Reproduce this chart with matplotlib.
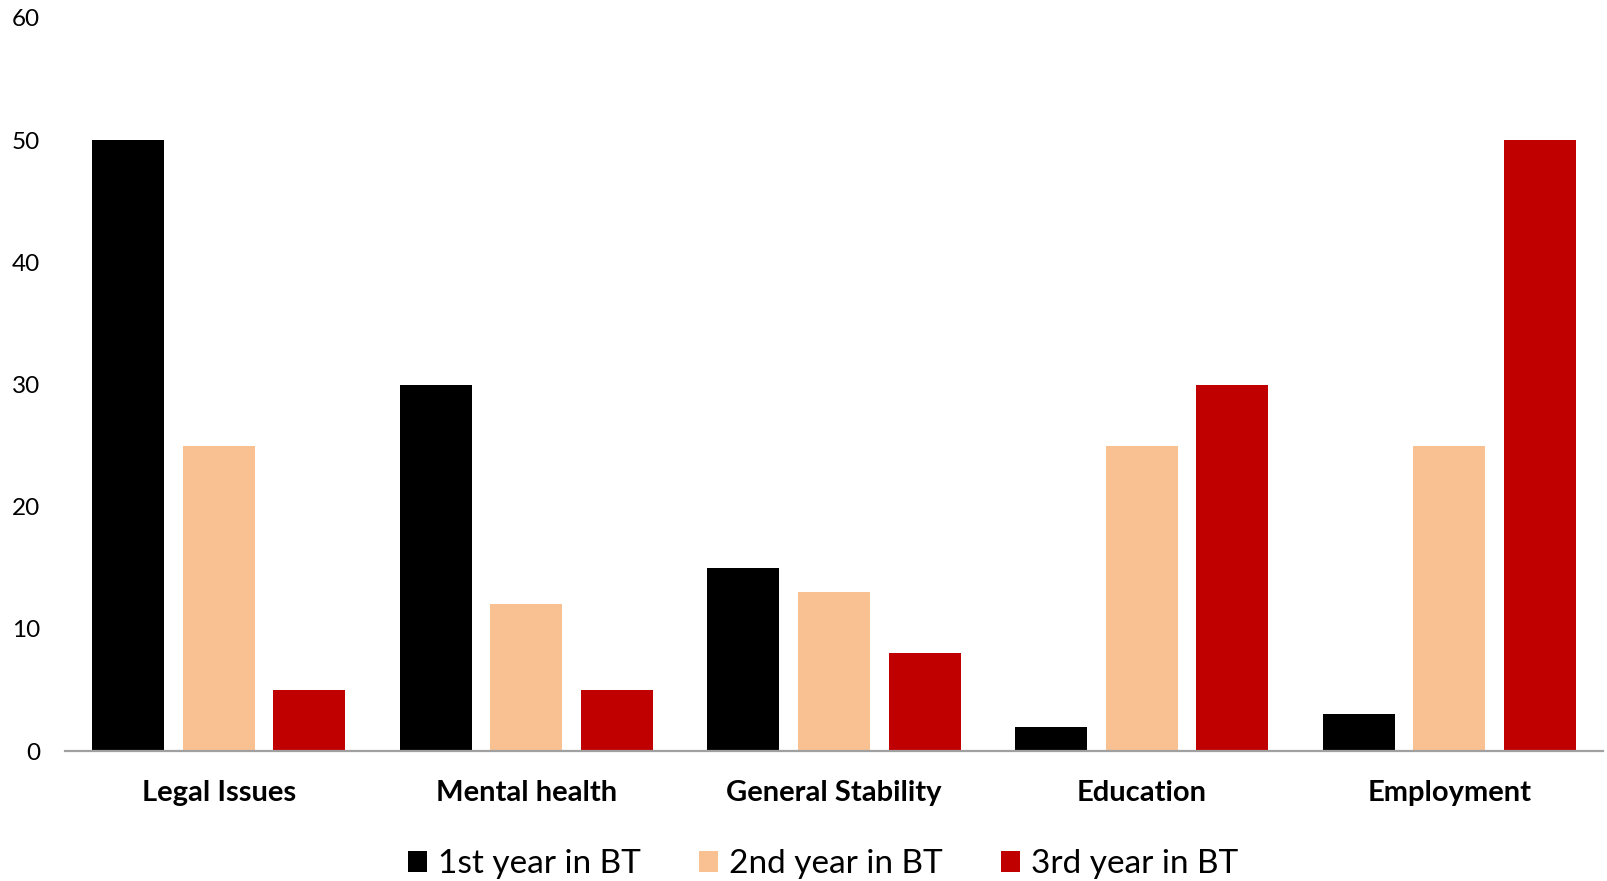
import numpy as np
import matplotlib
matplotlib.use("Agg")
import matplotlib.pyplot as plt
from matplotlib.patches import Patch

categories = ["Legal Issues", "Mental health", "General Stability", "Education", "Employment"]
series_names = ["1st year in BT", "2nd year in BT", "3rd year in BT"]
year1 = [50, 30, 15, 2, 3]
year2 = [25, 12, 13, 25, 25]
year3 = [5, 5, 8, 30, 50]
yticks = [0, 10, 20, 30, 40, 50, 60]

colors = ["#000000", "#F9C192", "#C00000"]

plt.rcParams["font.family"] = ["Lato", "DejaVu Sans"]

fig = plt.figure(figsize=(16.08, 8.81), dpi=100)
ax = fig.add_axes([65 / 1608, 130 / 881, 1538 / 1608, 733 / 881])

x = np.arange(len(categories))
step = 0.2946
width = 0.234
for i, (vals, col) in enumerate(zip([year1, year2, year3], colors)):
    ax.bar(x + (i - 1) * step, vals, width, color=col, zorder=2)

ax.set_xlim(-0.5, len(categories) - 0.5)
ax.set_ylim(0, 60)
ax.set_yticks(yticks)
ax.set_yticklabels([str(v) for v in yticks], fontsize=17.5)
ax.set_xticks(x)
ax.set_xticklabels(categories, fontsize=21, fontweight="bold")
ax.tick_params(axis="y", length=0, pad=18)
ax.tick_params(axis="x", length=0, pad=21)

for s in ["top", "right", "left"]:
    ax.spines[s].set_visible(False)
ax.spines["bottom"].set_color("#A0A0A0")
ax.spines["bottom"].set_linewidth(1.6)
ax.spines["bottom"].set_zorder(3)

handles = [Patch(facecolor=c, edgecolor="none") for c in colors]
fig.legend(handles, series_names, loc="center", bbox_to_anchor=(823 / 1608, 1 - 864 / 881),
           ncol=3, frameon=False, fontsize=24, handlelength=0.58, handleheight=0.6,
           handletextpad=0.32, columnspacing=1.75, borderaxespad=0, borderpad=0)

fig.savefig("out.png", dpi=100)
